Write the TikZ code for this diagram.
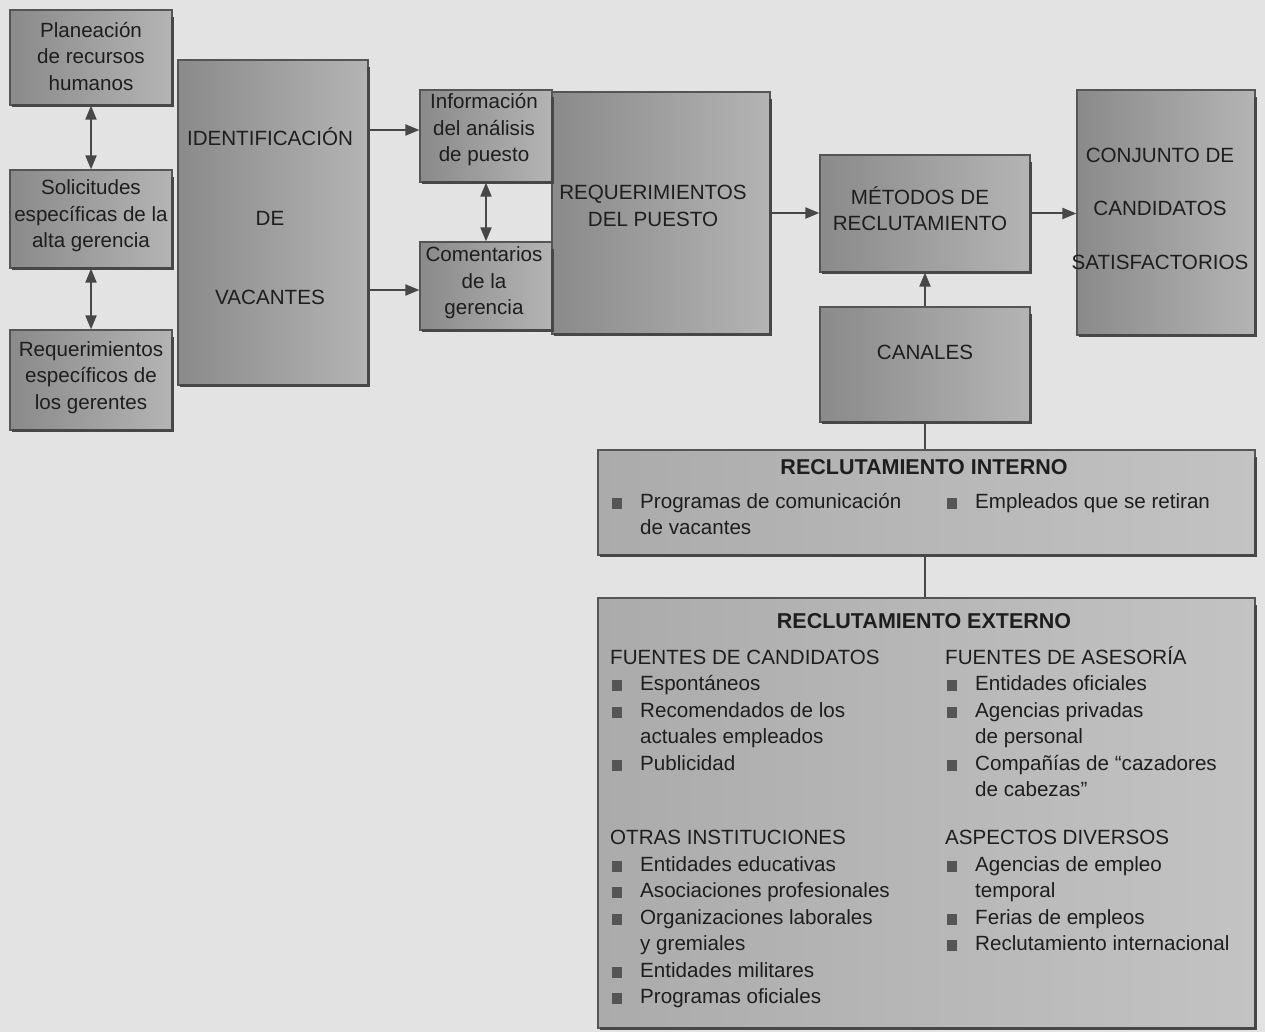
\documentclass[tikz,border=0pt]{standalone}
\usepackage{fontspec}
\setmainfont{Liberation Sans}
\usetikzlibrary{arrows.meta}

\definecolor{bg}{HTML}{E3E3E3}
\definecolor{boxL}{HTML}{8A8A8A}
\definecolor{boxR}{HTML}{B4B4B4}
\definecolor{panL}{HTML}{ABABAB}
\definecolor{panR}{HTML}{C3C3C3}
\definecolor{edge}{HTML}{555555}
\definecolor{shadeline}{HTML}{474747}
\definecolor{ink}{HTML}{1E1E1E}
\definecolor{bul}{HTML}{555555}

% bullet square and hanging indent for list lines
\newcommand\blt{\makebox[30pt][l]{\hspace{2pt}\textcolor{bul}{\rule[-0.5pt]{10pt}{11pt}}}}
\newcommand\ind{\hspace*{30pt}}

\begin{document}
\begin{tikzpicture}[x=1pt,y=-1pt,
  box/.style={rectangle, draw=edge, line width=1.2pt,
    left color=boxL, right color=boxR, inner sep=0pt},
  panel/.style={rectangle, draw=edge, line width=1.2pt,
    left color=panL, right color=panR, inner sep=0pt},
  rim/.style={draw=shadeline, line width=3.5pt, line cap=rect},
  lbl/.style={font=\fontsize{20.6}{26.5}\selectfont, text=ink, align=center, inner sep=0pt},
  item/.style={font=\fontsize{20.6}{26.5}\selectfont, text=ink, anchor=base west, inner sep=0pt},
  head/.style={font=\bfseries\fontsize{21.5}{26}\selectfont, text=ink, anchor=base, inner sep=0pt},
  arr/.style={draw=shadeline, line width=2pt, -{Triangle[length=14pt,width=11pt]}},
  darr/.style={draw=shadeline, line width=2pt, {Triangle[length=14pt,width=11pt]}-{Triangle[length=14pt,width=11pt]}},
  link/.style={draw=shadeline, line width=2pt}]

\useasboundingbox (0,0) rectangle (1265,1032);
\fill[bg] (0,0) rectangle (1265,1032);

% ---- left column: sources of vacancies
\node[box, minimum width=162pt, minimum height=95pt]  (plan) at (91,57.5) {};
\node[box, minimum width=162pt, minimum height=98pt]  (soli) at (91,219) {};
\node[box, minimum width=162pt, minimum height=100pt] (reqg) at (91,380) {};
\node[box, minimum width=190pt, minimum height=325pt] (idv)  at (273,222.5) {};

% ---- job requirements block
\node[box, minimum width=218pt, minimum height=242pt] (reqp) at (661,213) {};
\node[box, minimum width=132pt, minimum height=92pt]  (info) at (486,136) {};
\node[box, minimum width=132pt, minimum height=88pt]  (coment) at (486,286) {};

% ---- recruiting methods, channels, result
\node[box, minimum width=210pt, minimum height=117pt] (met)  at (925,213.5) {};
\node[box, minimum width=210pt, minimum height=115pt] (can)  at (925,364.5) {};
\node[box, minimum width=178pt, minimum height=245pt] (conj) at (1166,212.5) {};

% ---- internal / external recruiting panels
\node[panel, minimum width=657pt, minimum height=105pt] (int) at (926.5,502.5) {};
\node[panel, minimum width=657pt, minimum height=430pt] (ext) at (926.5,813) {};

% dark rims on the right and bottom edges
\foreach \n in {plan,soli,reqg,idv,reqp,info,coment,met,can,conj,int,ext}
  \draw[rim] ([yshift=-9pt]\n.north east) -- (\n.south east) -- ([xshift=4pt]\n.south west);

% ---- box texts
\node[lbl] (plan-t) at (91,56.5) {Planeación\\de recursos\\humanos};
\node[lbl] (soli-t) at (91,216) {Solicitudes\\específicas de la\\alta gerencia};
\node[lbl] (reqg-t) at (91,377.5) {Requerimientos\\específicos de\\los gerentes};
\node[lbl, font=\fontsize{20.6}{79.5}\selectfont] (idv-t) at (270,216.5) {IDENTIFICACIÓN\\DE\\VACANTES};
\node[lbl] (info-t) at (484,130) {Información\\del análisis\\de puesto};
\node[lbl] (coment-t) at (484,283) {Comentarios\\de la\\gerencia};
\node[lbl] (reqp-t) at (653,206) {REQUERIMIENTOS\\DEL PUESTO};
\node[lbl] (met-t) at (920,208.5) {MÉTODOS DE\\RECLUTAMIENTO};
\node[lbl] (can-t) at (925,352) {CANALES};
\node[lbl, font=\fontsize{20.6}{53.5}\selectfont] (conj-t) at (1160,208.5) {CONJUNTO DE\\CANDIDATOS\\SATISFACTORIOS};

% ---- connectors
\draw[darr] (plan.south) -- (soli.north);
\draw[darr] (soli.south) -- (reqg.north);
\draw[arr] (idv.east |- info-t) -- (info.west |- info-t);
\draw[arr] ([yshift=-4pt]idv.east |- coment) -- ([yshift=-4pt]coment.west);
\draw[darr] (info.south) -- (coment.north);
\draw[arr] (reqp.east) -- (met.west |- reqp.east);
\draw[arr] (met.east) -- (conj.west |- met.east);
\draw[arr] (can.north) -- (met.south);
\draw[link] (can.south) -- (can.south |- int.north);
\draw[link] (int.south -| can.south) -- (ext.north -| can.south);

% ---- internal recruiting
\node[head] (int-h) at (924,474) {RECLUTAMIENTO INTERNO};
\node[item] (int-a) at (610,508) {\blt Programas de comunicación};
\node[item] (int-b) at (610,534.5) {\ind de vacantes};
\node[item] (int-c) at (945,508) {\blt Empleados que se retiran};

% ---- external recruiting
\node[head] (ext-h) at (924,628) {RECLUTAMIENTO EXTERNO};
\foreach \yy/\txt [count=\i] in {
   664/FUENTES DE CANDIDATOS,
   690.5/\blt Espontáneos,
   717/\blt Recomendados de los,
   743.5/\ind actuales empleados,
   770/\blt Publicidad,
   844/OTRAS INSTITUCIONES,
   871/\blt Entidades educativas,
   897.5/\blt Asociaciones profesionales,
   924/\blt Organizaciones laborales,
   950.5/\ind y gremiales,
   977/\blt Entidades militares,
   1003.5/\blt Programas oficiales}
  \node[item] (left-\i) at (610,\yy) {\txt};
\foreach \yy/\txt [count=\i] in {
   664/FUENTES DE ASESORÍA,
   690.5/\blt Entidades oficiales,
   717/\blt Agencias privadas,
   743.5/\ind de personal,
   770/\blt Compañías de “cazadores,
   796.5/\ind de cabezas”,
   844/ASPECTOS DIVERSOS,
   871/\blt Agencias de empleo,
   897.5/\ind temporal,
   924/\blt Ferias de empleos,
   950.5/\blt Reclutamiento internacional}
  \node[item] (right-\i) at (945,\yy) {\txt};

\end{tikzpicture}
\end{document}
